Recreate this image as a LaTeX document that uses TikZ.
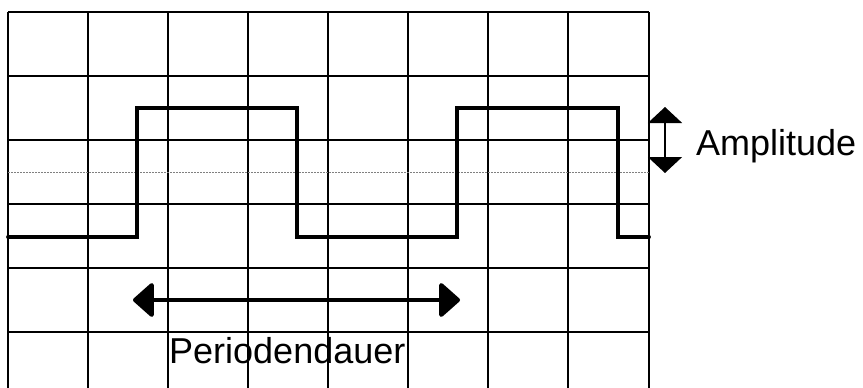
\documentclass[tikz,border=0pt]{standalone}
\usepackage{fontspec}
\setmainfont{Liberation Sans}
\usetikzlibrary{arrows.meta}
\begin{document}
\begin{tikzpicture}[x=1pt,y=-1pt,
  gridline/.style={line width=1.8pt,black},
  wave/.style={line width=3.8pt,black,line join=miter,line cap=round},
  midline/.style={line width=0.6pt,gray,dash pattern=on 2pt off 1pt},
  lbl/.style={font=\fontsize{36}{40}\selectfont,inner sep=0pt,anchor=base west},
  bigarrow/.style={line width=4.2pt,{Triangle[length=22pt,width=38pt,round]}-{Triangle[length=22pt,width=38pt,round]},line join=round},
  amparrow/.style={line width=1.8pt,{Triangle[length=16pt,width=34pt]}-{Triangle[length=16pt,width=34pt]}}]
\useasboundingbox (0,0) rectangle (863,388);
% grid
\foreach \y in {12,76,140,204,268,332} \draw[gridline] (8,\y) -- (649,\y);
\foreach \x in {8,88,168,248,328,408,488,568,649} \draw[gridline] (\x,12) -- (\x,388);
% mid line
\draw[midline] (8,172) -- (649,172);
% square wave
\coordinate (w0) at (8,237);
\coordinate (w1) at (137,237);
\coordinate (w2) at (137,108);
\coordinate (w3) at (297,108);
\coordinate (w4) at (297,237);
\coordinate (w5) at (457,237);
\coordinate (w6) at (457,108);
\coordinate (w7) at (618,108);
\coordinate (w8) at (618,237);
\coordinate (w9) at (649,237);
\draw[wave] (w0) -- (w1) -- (w2) -- (w3) -- (w4) -- (w5) -- (w6) -- (w7) -- (w8) -- (w9);
% amplitude
\coordinate (at) at (665,107);
\coordinate (ab) at (665,173);
\draw[amparrow] (at) -- (ab);
\node[lbl] (amp) at (696,155) {Amplitude};
% period
\coordinate (pl) at (133,300);
\coordinate (pr) at (460,300);
\draw[bigarrow] (pl) -- (pr);
\node[lbl] (per) at (169,363) {Periodendauer};
\end{tikzpicture}
\end{document}
